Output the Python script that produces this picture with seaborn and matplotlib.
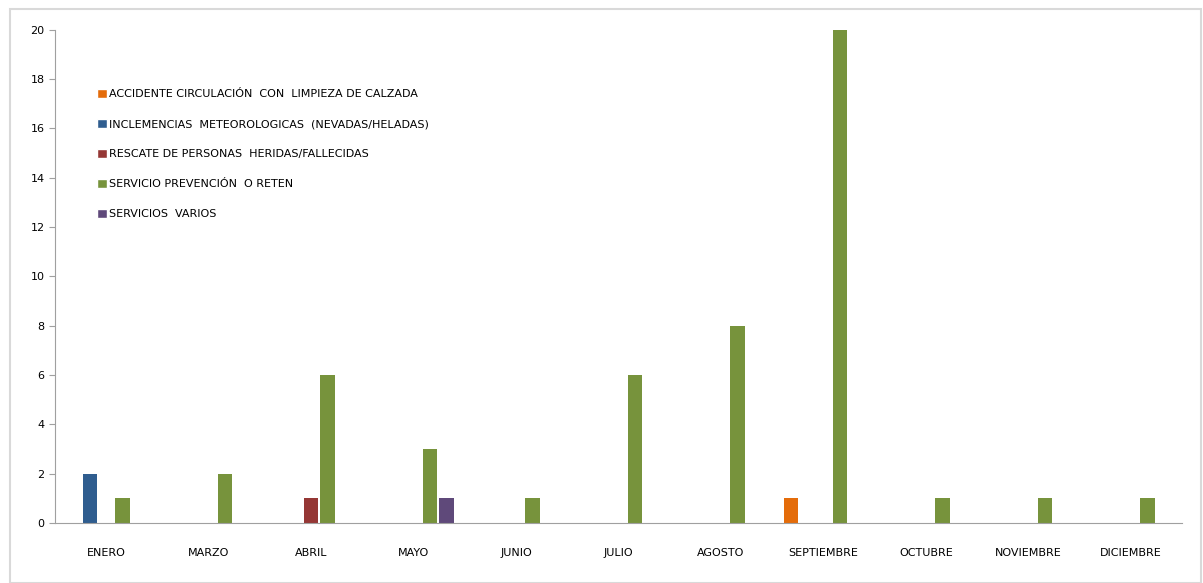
import pandas as pd
import matplotlib
matplotlib.use("Agg")
import matplotlib.pyplot as plt
import seaborn as sns
from matplotlib.patches import Patch, Rectangle

months = ['ENERO', 'MARZO', 'ABRIL', 'MAYO', 'JUNIO', 'JULIO', 'AGOSTO',
          'SEPTIEMBRE', 'OCTUBRE', 'NOVIEMBRE', 'DICIEMBRE']
series = ['ACCIDENTE CIRCULACIÓN  CON  LIMPIEZA DE CALZADA',
          'INCLEMENCIAS  METEOROLOGICAS  (NEVADAS/HELADAS)',
          'RESCATE DE PERSONAS  HERIDAS/FALLECIDAS',
          'SERVICIO PREVENCIÓN  O RETEN',
          'SERVICIOS  VARIOS']
accidente = [0, 0, 0, 0, 0, 0, 0, 1, 0, 0, 0]
inclemencias = [2, 0, 0, 0, 0, 0, 0, 0, 0, 0, 0]
rescate = [0, 0, 1, 0, 0, 0, 0, 0, 0, 0, 0]
prevencion = [1, 2, 6, 3, 1, 6, 8, 20, 1, 1, 1]
varios = [0, 0, 0, 1, 0, 0, 0, 0, 0, 0, 0]
colors = ['#E46C0A', '#2F5D8F', '#953735', '#77933C', '#5F497A']

rows = []
for name, vals in zip(series, [accidente, inclemencias, rescate, prevencion, varios]):
    for m, v in zip(months, vals):
        rows.append({'mes': m, 'serie': name, 'valor': v})
df = pd.DataFrame(rows)

sns.set_style("white")
plt.rcParams['font.family'] = ['DejaVu Sans']
plt.rcParams['text.color'] = 'black'
plt.rcParams['xtick.color'] = 'black'
plt.rcParams['ytick.color'] = 'black'

fig = plt.figure(figsize=(12.03, 5.83), dpi=100)
ax = fig.add_axes([0.0457, 0.103, 0.937, 0.846])

# light frame around the chart area
fig.patches.append(Rectangle((0.008, 0.0), 0.99, 0.985, transform=fig.transFigure,
                             fill=False, edgecolor='#D9D9D9', linewidth=1.5))

sns.barplot(data=df, x='mes', y='valor', hue='serie', order=months, hue_order=series,
            palette=colors, width=0.8, gap=0.12, ax=ax, legend=False,
            edgecolor='none', saturation=1)

ax.set_ylim(0, 20)
ax.set_xlim(-0.5, len(months) - 0.5)
ax.set_yticks(range(0, 21, 2))
ax.set_xticks([i - 0.5 for i in range(len(months) + 1)], minor=True)
ax.tick_params(axis='x', which='major', length=0, pad=18, labelsize=8)
ax.tick_params(axis='x', which='minor', length=5, color='#A0A0A0', direction='out')
ax.tick_params(axis='y', length=4, color='#A0A0A0', labelsize=8, left=True)
ax.set_xlabel('')
ax.set_ylabel('')
for side in ['top', 'right']:
    ax.spines[side].set_visible(False)
ax.spines['left'].set_color('#A0A0A0')
ax.spines['bottom'].set_color('#A0A0A0')

handles = [Patch(facecolor=c, label=s) for c, s in zip(colors, series)]
ax.legend(handles=handles, loc='upper left', bbox_to_anchor=(0.028, 0.9),
          frameon=False, fontsize=8, handlelength=0.9, handleheight=0.9,
          handletextpad=0.25, labelspacing=1.75)

plt.savefig('out.png', dpi=100)
